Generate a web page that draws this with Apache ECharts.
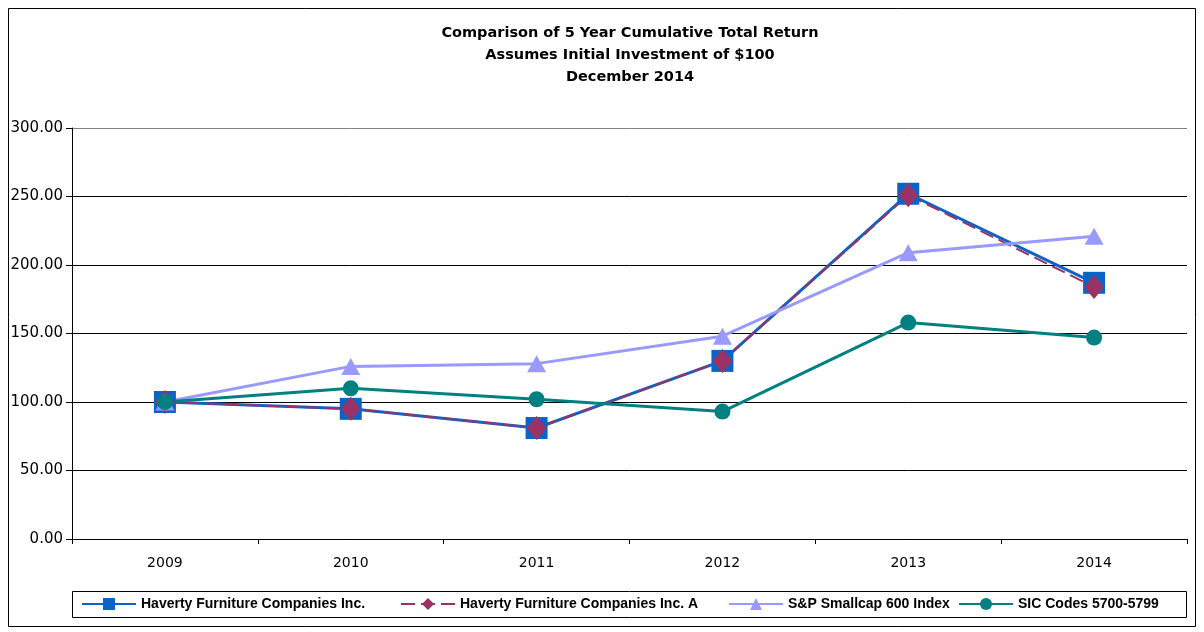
<!DOCTYPE html>
<html>
<head>
<meta charset="utf-8">
<script src="https://cdn.jsdelivr.net/npm/echarts@6/dist/echarts.min.js"></script>
<style>
html,body{margin:0;padding:0;background:#fff;}
#chart{width:1204px;height:632px;}
</style>
</head>
<body>
<div id="chart"></div>
<script>
const years = ['2009','2010','2011','2012','2013','2014'];
const havertyName = 'Haverty Furniture Companies Inc.';
const havertyAName = 'Haverty Furniture Companies Inc. A';
const spName = 'S&P Smallcap 600 Index';
const sicName = 'SIC Codes 5700-5799';
const haverty = [100, 95, 81, 130, 252, 187];
const havertyA = [100, 95, 81, 130, 251, 184];
const sp600 = [100, 126, 128, 148, 209, 221];
const sic = [100, 110, 102, 93, 158, 147];
const titleLines = ['Comparison of 5 Year Cumulative Total Return','Assumes Initial Investment of $100','December 2014'];

const chart = echarts.init(document.getElementById('chart'));
const legendText = {fontFamily:'Liberation Sans', fontWeight:'bold', fontSize:14, color:'#000'};
function leg(name, left){
  return {data:[name], left:left, top:597, itemWidth:54, itemHeight:15, itemGap:0, padding:0, textStyle:legendText, selectedMode:false};
}
chart.setOption({
  animation:false,
  backgroundColor:'#fff',
  title:{
    text: titleLines.join('\n'),
    left:625, top:17, textAlign:'center',
    textStyle:{fontFamily:'DejaVu Sans', fontWeight:'bold', fontSize:14.5, lineHeight:22, color:'#000'}
  },
  graphic:[
    {type:'rect', shape:{x:8.5,y:8.5,width:1187,height:618}, style:{fill:'none', stroke:'#000', lineWidth:1}, z:-1},
    {type:'rect', shape:{x:72.5,y:591.5,width:1114,height:26}, style:{fill:'none', stroke:'#000', lineWidth:1}, z:-1}
  ],
  legend:[leg(havertyName,81), leg(havertyAName,400), leg(spName,728), leg(sicName,958)],
  grid:{left:72, right:17, top:128, bottom:93, containLabel:false},
  xAxis:{
    type:'category', data:years, boundaryGap:true,
    axisLine:{lineStyle:{color:'#000', width:1}},
    axisTick:{show:true, length:5, lineStyle:{color:'#000'}},
    axisLabel:{fontFamily:'DejaVu Sans', fontSize:14, color:'#000', margin:17},
    splitLine:{show:false}
  },
  yAxis:{
    type:'value', min:0, max:300, interval:50,
    axisLine:{show:true, lineStyle:{color:'#000'}},
    axisTick:{show:true, length:6, lineStyle:{color:'#000'}},
    axisLabel:{fontFamily:'DejaVu Sans', fontSize:15, color:'#000', margin:9, formatter:v=>v.toFixed(2)},
    splitLine:{show:true, lineStyle:{color:['#000','#000','#000','#000','#000','#000','#808080'], width:1}}
  },
  series:[
    {name:havertyName, type:'line', data:haverty, symbol:'rect', symbolSize:22,
     lineStyle:{color:'#0a64c8', width:3}, itemStyle:{color:'#0a64c8'}},
    {name:havertyAName, type:'line', data:havertyA, symbol:'diamond', symbolSize:[20,24],
     lineStyle:{color:'#993366', width:2, type:[14,6]}, itemStyle:{color:'#993366'}},
    {name:spName, type:'line', data:sp600, symbol:'triangle', symbolSize:[19,17],
     lineStyle:{color:'#9999ff', width:3}, itemStyle:{color:'#9999ff'}},
    {name:sicName, type:'line', data:sic, symbol:'circle', symbolSize:16,
     lineStyle:{color:'#008080', width:3}, itemStyle:{color:'#008080'}}
  ]
});
</script>
</body>
</html>
